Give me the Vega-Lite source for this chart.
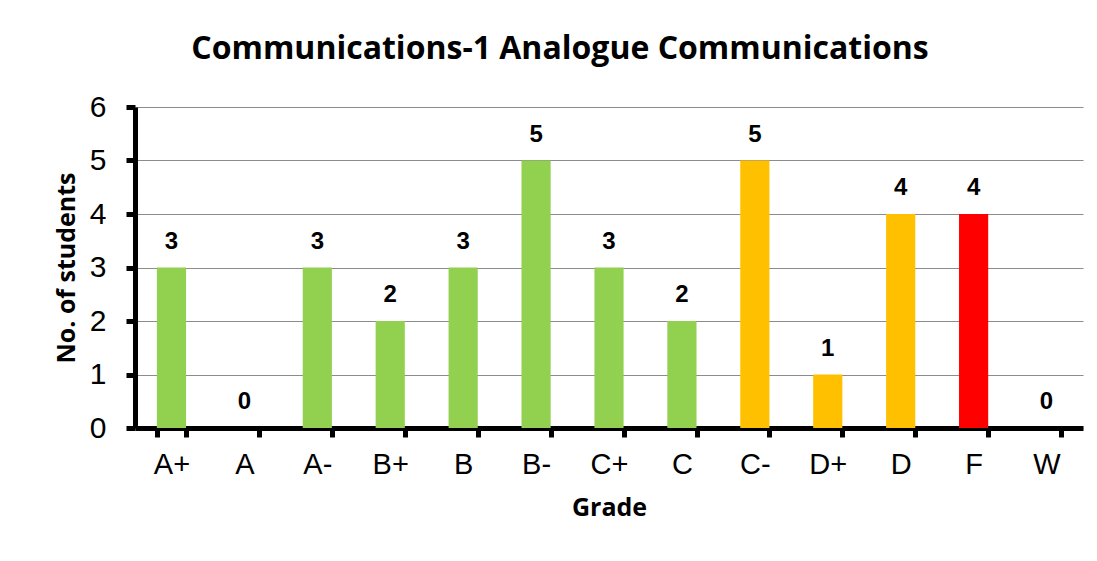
{
  "$schema": "https://vega.github.io/schema/vega-lite/v6.json",
  "width": 948,
  "height": 321,
  "autosize": {"type": "none"},
  "padding": {"left": 135, "top": 107, "right": 14, "bottom": 133},
  "background": "white",
  "title": {
    "text": "Communications-1 Analogue Communications",
    "font": "Open Sans",
    "fontSize": 32,
    "fontWeight": "bold",
    "color": "#000000",
    "anchor": "middle",
    "dx": -49,
    "offset": 26
  },
  "config": {"view": {"stroke": null}},
  "data": {
    "values": [
      {"grade": "A+", "n": 3, "grp": "pass"},
      {"grade": "A", "n": 0, "grp": "pass"},
      {"grade": "A-", "n": 3, "grp": "pass"},
      {"grade": "B+", "n": 2, "grp": "pass"},
      {"grade": "B", "n": 3, "grp": "pass"},
      {"grade": "B-", "n": 5, "grp": "pass"},
      {"grade": "C+", "n": 3, "grp": "pass"},
      {"grade": "C", "n": 2, "grp": "pass"},
      {"grade": "C-", "n": 5, "grp": "marginal"},
      {"grade": "D+", "n": 1, "grp": "marginal"},
      {"grade": "D", "n": 4, "grp": "marginal"},
      {"grade": "F", "n": 4, "grp": "fail"},
      {"grade": "W", "n": 0, "grp": "withdrawn"}
    ]
  },
  "encoding": {
    "x": {
      "field": "grade",
      "type": "nominal",
      "sort": null,
      "scale": {"paddingInner": 0.6, "paddingOuter": 0.3},
      "axis": {
        "title": "Grade",
        "titleFont": "Open Sans",
        "titleFontSize": 25,
        "titleFontWeight": "bold",
        "titleColor": "#000",
        "titlePadding": 16,
        "labelFont": "Liberation Sans",
        "labelFontSize": 29,
        "labelColor": "#000",
        "labelPadding": 13,
        "labelAngle": 0,
        "domainColor": "#000",
        "domainWidth": 5,
        "tickColor": "#000",
        "tickWidth": 5,
        "tickSize": 9,
        "tickBand": "extent",
        "grid": false
      }
    },
    "y": {
      "field": "n",
      "type": "quantitative",
      "scale": {"domain": [0, 6]},
      "axis": {
        "title": "No. of students",
        "titleFont": "Open Sans",
        "titleFontSize": 25,
        "titleFontWeight": "bold",
        "titleColor": "#000",
        "titlePadding": 10,
        "labelFont": "Liberation Sans",
        "labelFontSize": 30,
        "labelColor": "#000",
        "labelPadding": 20,
        "values": [0, 1, 2, 3, 4, 5, 6],
        "labelOverlap": false,
        "domainColor": "#000",
        "domainWidth": 5,
        "tickColor": "#000",
        "tickWidth": 5,
        "tickSize": 9,
        "gridColor": "#8c8c8c",
        "gridWidth": 1.2
      }
    }
  },
  "layer": [
    {
      "mark": {"type": "bar"},
      "encoding": {
        "color": {
          "field": "grp",
          "type": "nominal",
          "scale": {
            "domain": ["pass", "marginal", "fail", "withdrawn"],
            "range": ["#92D050", "#FFC000", "#FF0000", "#92D050"]
          },
          "legend": null
        }
      }
    },
    {
      "mark": {
        "type": "text",
        "dy": -14,
        "font": "Liberation Sans",
        "fontSize": 24,
        "fontWeight": "bold",
        "color": "#000",
        "baseline": "bottom"
      },
      "encoding": {"text": {"field": "n", "type": "quantitative"}}
    }
  ]
}
